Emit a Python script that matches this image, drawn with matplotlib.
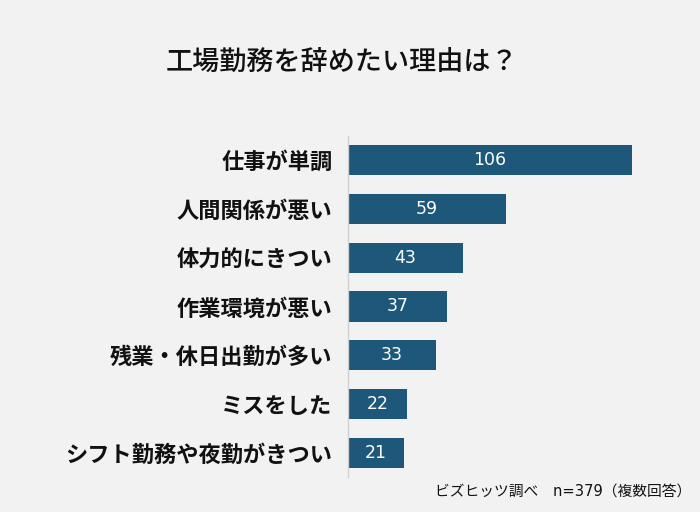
import matplotlib
matplotlib.use('Agg')
from matplotlib import pyplot as plt

plt.rcParams['font.family'] = ['Noto Sans CJK JP', 'DejaVu Sans']

reasons = ['仕事が単調', '人間関係が悪い', '体力的にきつい', '作業環境が悪い',
           '残業・休日出勤が多い', 'ミスをした', 'シフト勤務や夜勤がきつい']
counts = [106, 59, 43, 37, 33, 22, 21]

bg = '#f2f2f2'
bar_color = '#1d5779'

fig = plt.figure(figsize=(7, 5.12), dpi=100, facecolor=bg)
ax = fig.add_axes([0.497, 0.0676, 0.4457, 0.6676])
ax.set_facecolor(bg)

ypos = list(range(len(reasons)))
ax.barh(ypos, counts, height=0.62, color=bar_color)
for y, v in zip(ypos, counts):
    ax.text(v / 2, y, str(v), color='white', ha='center', va='center',
            fontsize=12.5, fontweight='medium', family=['DejaVu Sans'])

ax.set_xlim(0, 116.4)
ax.set_ylim(len(reasons) - 0.5, -0.5)
ax.set_yticks(ypos)
ax.set_yticklabels(reasons, fontsize=16, fontweight='bold', color='#111111')
ax.tick_params(axis='y', length=0, pad=11)
ax.set_xticks([])
for s in ['top', 'right', 'bottom']:
    ax.spines[s].set_visible(False)
ax.spines['left'].set_color('#d0d0d0')
ax.spines['left'].set_linewidth(1)

fig.text(0.489, 0.878, '工場勤務を辞めたい理由は？', ha='center', va='center',
         fontsize=19.5, fontweight='medium', color='#111111')
fig.text(0.987, 0.038, 'ビズヒッツ調べ　n=379（複数回答）', ha='right', va='center',
         fontsize=10.6, color='#111111', family=['DejaVu Sans', 'Noto Sans CJK JP'])

fig.savefig('out.png', dpi=100, facecolor=bg)
